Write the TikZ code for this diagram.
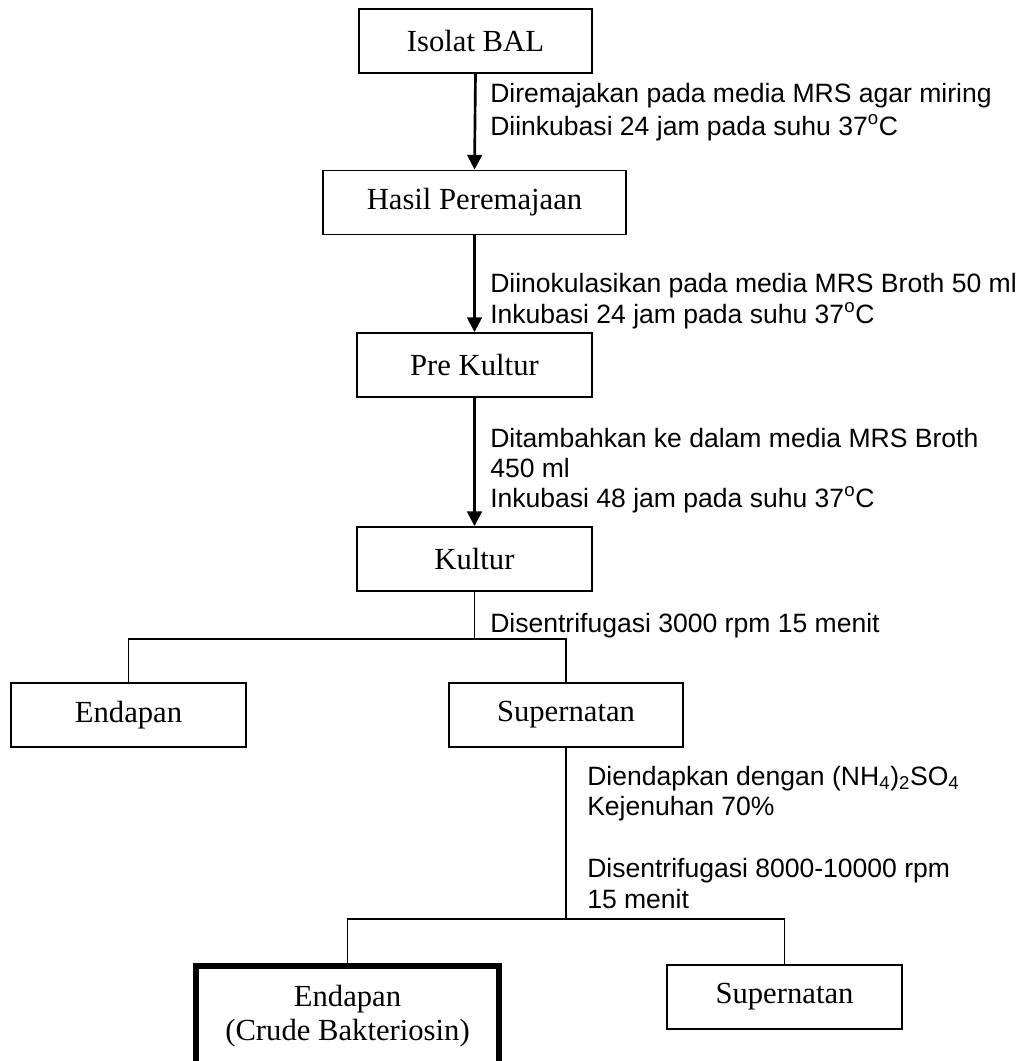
\documentclass[tikz,border=0pt]{standalone}
\usepackage{fontspec}
\setmainfont{Liberation Serif}
\setsansfont{Liberation Sans}
\usetikzlibrary{arrows.meta}

\begin{document}
\begin{tikzpicture}[x=0.75pt, y=-0.75pt,
        box/.style={draw, line width=1.4pt, inner sep=0pt, minimum width=176pt, minimum height=48pt, font=\fontsize{23}{27}\selectfont},
        note/.style={anchor=base west, inner sep=0pt, font=\sffamily\fontsize{19.9}{24}\selectfont},
        flow/.style={line width=2pt, -{Triangle[length=11pt,width=11pt]}},
        split/.style={line width=1.2pt}]
        \useasboundingbox (0,0) rectangle (1027,1061);

        % Boxes
        \node[box, minimum width=174.75pt] (isolat) at (475.5,41) {Isolat BAL};
        \node[box, minimum width=227.25pt] (hasil) at (474.5,202.5) {Hasil Peremajaan};
        \node[box] (prekultur) at (474.5,365) {Pre Kultur};
        \node[box] (kultur) at (474.5,559) {Kultur};
        \node[box] (endapan) at (128.5,715) {Endapan};
        \node[box] (supernatan) at (566,715) {Supernatan};
        % runs past the bottom edge of the page
        \node[box, line width=4.5pt, minimum width=227.25pt, minimum height=81.75pt, align=center,
              font=\fontsize{23}{25.5}\selectfont] (crude) at (347.5,1020.5) {Endapan\\(Crude Bakteriosin)\rule[-12pt]{0pt}{12pt}};
        \node[box] (supernatanb) at (784.5,997) {Supernatan};

        % Arrows
        \draw[flow] (isolat.south) -- (hasil.north);
        \draw[flow] (hasil.south) -- (prekultur.north);
        \draw[flow] (prekultur.south) -- (kultur.north);

        % first split
        \coordinate (k1) at (474.5,639);
        \draw[split] (kultur.south) -- (k1);
        \draw[split] (endapan.north) |- (k1) -| (supernatan.north);

        % second split
        \coordinate (s1) at (566,919);
        \draw[split] (supernatan.south) -- (s1);
        \draw[split] (crude.north) |- (s1) -| (supernatanb.north);

        % Labels
        \node[note] (t1a) at (490,102) {Diremajakan pada media MRS agar miring};
        \node[note] (t1b) at (490,135) {Diinkubasi 24 jam pada suhu 37\textsuperscript{o}C};
        \node[note] (t2a) at (490,292) {Diinokulasikan pada media MRS Broth 50 ml};
        \node[note] (t2b) at (490,323) {Inkubasi 24 jam pada suhu 37\textsuperscript{o}C};
        \node[note] (t3a) at (490,447) {Ditambahkan ke dalam media MRS Broth};
        \node[note] (t3b) at (490,477) {450 ml};
        \node[note] (t3c) at (490,507) {Inkubasi 48 jam pada suhu 37\textsuperscript{o}C};
        \node[note] (t4) at (490,632) {Disentrifugasi 3000 rpm 15 menit};
        \node[note] (t5a) at (587,785) {Diendapkan dengan (NH\textsubscript{4})\textsubscript{2}SO\textsubscript{4}};
        \node[note] (t5b) at (587,815) {Kejenuhan 70\%};
        \node[note] (t5c) at (587,877) {Disentrifugasi 8000-10000 rpm};
        \node[note] (t5d) at (587,908) {15 menit};

    \end{tikzpicture}
\end{document}
